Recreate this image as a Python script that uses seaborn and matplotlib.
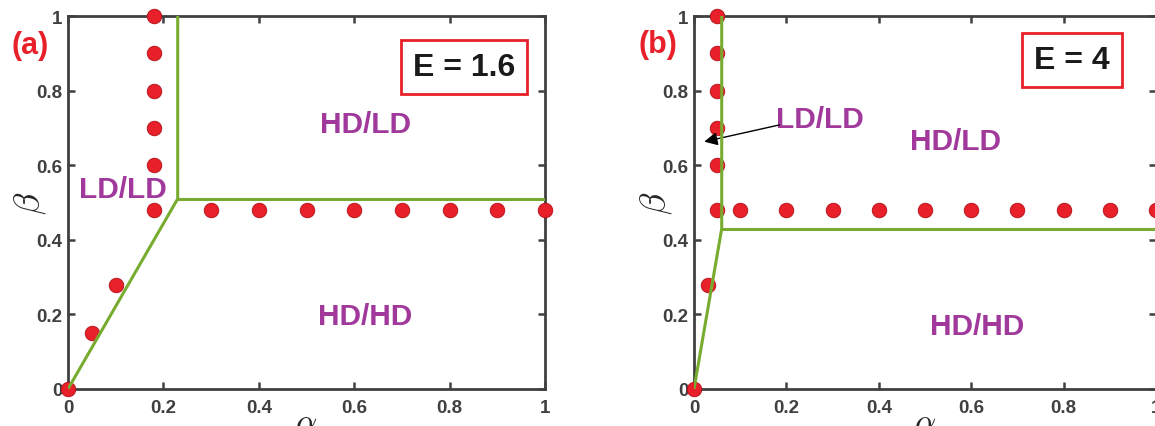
import matplotlib
matplotlib.use("Agg")
import matplotlib.pyplot as plt
import seaborn as sns
import pandas as pd

# ---------------- data ----------------
# panel (a): E = 1.6
a_dot_x = [0, 0.05, 0.10, 0.18, 0.18, 0.18, 0.18, 0.18, 0.18,
           0.30, 0.40, 0.50, 0.60, 0.70, 0.80, 0.90, 1.00]
a_dot_y = [0, 0.15, 0.28, 0.48, 0.60, 0.70, 0.80, 0.90, 1.00,
           0.48, 0.48, 0.48, 0.48, 0.48, 0.48, 0.48, 0.48]
a_line1_x = [0, 0.23, 0.23]
a_line1_y = [0, 0.51, 1.00]
a_line2_x = [0.23, 1.00]
a_line2_y = [0.51, 0.51]

# panel (b): E = 4
b_dot_x = [0, 0.03, 0.05, 0.05, 0.05, 0.05, 0.05, 0.05,
           0.10, 0.20, 0.30, 0.40, 0.50, 0.60, 0.70, 0.80, 0.90, 1.00]
b_dot_y = [0, 0.28, 0.48, 0.60, 0.70, 0.80, 0.90, 1.00,
           0.48, 0.48, 0.48, 0.48, 0.48, 0.48, 0.48, 0.48, 0.48, 0.48]
b_line1_x = [0, 0.06, 0.06]
b_line1_y = [0, 0.43, 1.00]
b_line2_x = [0.06, 1.00]
b_line2_y = [0.43, 0.43]

ticks = [0, 0.2, 0.4, 0.6, 0.8, 1]
tick_labels = ["0", "0.2", "0.4", "0.6", "0.8", "1"]

# ---------------- style ----------------
sns.set_theme(style="white")
plt.rcParams["font.family"] = ["Liberation Sans", "DejaVu Sans"]
plt.rcParams["mathtext.fontset"] = "cm"

SPINE = "#404040"
GREEN = "#77AC30"
RED = "#E8202A"
MAGENTA = "#A0399B"

fig = plt.figure(figsize=(11.55, 4.27), dpi=100)
ax_a = fig.add_axes([68 / 1155, 37 / 427, 477 / 1155, 373 / 427])
ax_b = fig.add_axes([694 / 1155, 37 / 427, 462 / 1155, 373 / 427])


def style_axes(ax):
    ax.set_xlim(0, 1)
    ax.set_ylim(0, 1)
    ax.set_xticks(ticks)
    ax.set_yticks(ticks)
    ax.set_xticklabels(tick_labels, fontsize=13.5, fontweight="bold", color=SPINE)
    ax.set_yticklabels(tick_labels, fontsize=13.5, fontweight="bold", color=SPINE)
    ax.tick_params(direction="in", length=5, width=1.8, color=SPINE,
                   top=True, right=True, bottom=True, left=True)
    ax.tick_params(axis="x", pad=7)
    ax.tick_params(axis="y", pad=4)
    for s in ax.spines.values():
        s.set_visible(True)
        s.set_color(SPINE)
        s.set_linewidth(2.0)
    ax.set_xlabel(r"$\alpha$", fontsize=24, labelpad=-6)
    ax.set_ylabel(r"$\beta$", fontsize=26, labelpad=-8.5)


def draw_panel(ax, dx, dy, l1x, l1y, l2x, l2y):
    sns.scatterplot(x=dx, y=dy, ax=ax, s=110, color=RED, edgecolor="#B01018",
                    linewidth=0.6, zorder=3, clip_on=False)
    for lx, ly in ((l1x, l1y), (l2x, l2y)):
        df = pd.DataFrame({"x": lx, "y": ly})
        sns.lineplot(data=df, x="x", y="y", ax=ax, sort=False, estimator=None,
                     color=GREEN, linewidth=2.2, zorder=4)
    style_axes(ax)


draw_panel(ax_a, a_dot_x, a_dot_y, a_line1_x, a_line1_y, a_line2_x, a_line2_y)
draw_panel(ax_b, b_dot_x, b_dot_y, b_line1_x, b_line1_y, b_line2_x, b_line2_y)

lab = dict(fontsize=21.5, fontweight="bold", color=MAGENTA, ha="center", va="center")
ax_a.text((123 - 68) / 477, (390 - 190) / 373, "LD/LD", **lab)
ax_a.text((366 - 68) / 477, (390 - 125) / 373, "HD/LD", **lab)
ax_a.text((365 - 68) / 477, (390 - 317) / 373, "HD/HD", **lab)

ax_b.text((820 - 694) / 462, (390 - 120) / 373, "LD/LD", **lab)
ax_b.text((955 - 694) / 462, (390 - 142) / 373, "HD/LD", **lab)
ax_b.text((977 - 694) / 462, (390 - 327) / 373, "HD/HD", **lab)
ax_b.annotate("", xy=(0.022, 0.663), xytext=(0.185, 0.708),
              arrowprops=dict(arrowstyle="-|>", color="black", lw=1.0,
                              mutation_scale=20, shrinkA=0, shrinkB=0))

box = dict(boxstyle="square,pad=0.38", facecolor="white", edgecolor="#E8202A", linewidth=2)
ax_a.text((464 - 68) / 477, (390 - 68) / 373, "E = 1.6", fontsize=23, fontweight="bold",
          color="#1a1a1a", ha="center", va="center", bbox=box)
ax_b.text((1072 - 694) / 462, (390 - 61) / 373, "E = 4", fontsize=23, fontweight="bold",
          color="#1a1a1a", ha="center", va="center", bbox=box)

fig.text(30 / 1155, 1 - 46 / 427, "(a)", fontsize=22, fontweight="bold", color=RED,
         ha="center", va="center")
fig.text(658 / 1155, 1 - 45 / 427, "(b)", fontsize=22, fontweight="bold", color=RED,
         ha="center", va="center")

fig.savefig("out.png", dpi=100)
